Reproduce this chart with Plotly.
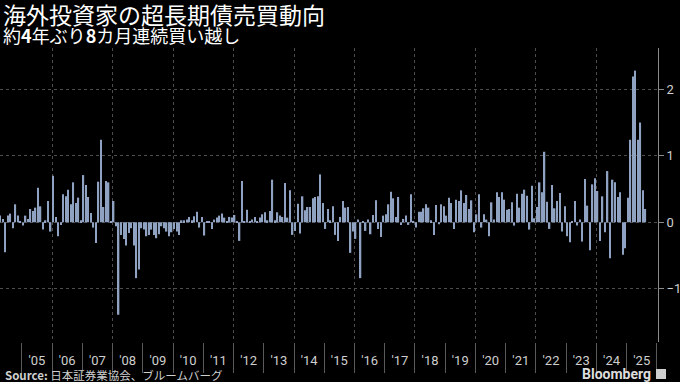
import pandas as pd
import plotly.graph_objects as go

# ---- data: monthly net purchases of super-long JGBs by foreign investors (trillion yen) ----
v2004 = [0.10, 0.05, -0.45, 0.10, 0.13, -0.09, 0.27, 0.10, 0.02]  # Apr-Dec
v2005 = [-0.05, 0.10, 0.05, 0.20, 0.17, 0.22, 0.52, 0.24, -0.11, 0.03, 0.32, -0.14]
v2006 = [0.70, 0.08, -0.21, -0.04, 0.42, 0.39, 0.49, 0.27, 0.60, 0.29, 0.37, 0.03]
v2007 = [0.71, 0.56, 0.38, 0.14, -0.08, -0.31, 0.61, 1.24, 0.23, 0.62, 0.60, 0.01]
v2008 = [0.32, -0.06, -1.39, -0.19, -0.25, -0.35, -0.16, -0.09, -0.35, -0.84, -0.71, -0.09]
v2009 = [-0.11, -0.21, -0.19, -0.11, -0.19, -0.24, -0.18, -0.06, -0.09, -0.14, -0.21, -0.15]
v2010 = [-0.10, -0.14, -0.19, 0.03, 0.03, 0.04, 0.08, 0.03, 0.09, 0.16, -0.08, 0.08]
v2011 = [-0.20, 0.01, 0.01, -0.10, 0.04, 0.07, 0.10, 0.13, 0.07, 0.01, 0.08, 0.07]
v2012 = [0.11, 0.01, -0.28, 0.62, 0.01, 0.19, 0.01, 0.04, 0.08, 0.01, 0.07, 0.12]
v2013 = [0.15, 0.03, 0.17, 0.64, 0.03, 0.15, 0.10, 0.08, 0.59, 0.07, 0.48, -0.19]
v2014 = [-0.13, 0.28, -0.17, 0.39, 0.18, 0.23, 0.23, 0.36, 0.38, 0.39, 0.72, 0.29]
v2015 = [-0.10, 0.20, 0.03, 0.24, -0.19, -0.28, 0.08, 0.32, 0.22, 0.23, -0.46, -0.14]
v2016 = [-0.25, 0.04, -0.84, 0.02, -0.13, 0.04, -0.18, 0.11, 0.33, -0.10, -0.22, 0.10]
v2017 = [0.12, 0.27, 0.46, 0.36, 0.08, 0.38, -0.04, 0.05, 0.10, -0.04, 0.42, 0.02]
v2018 = [-0.08, 0.16, 0.16, 0.21, 0.27, 0.22, 0.03, -0.19, 0.26, -0.03, 0.27, 0.24]
v2019 = [0.10, 0.37, 0.29, -0.10, 0.34, 0.32, 0.48, 0.29, 0.41, 0.20, 0.33, -0.15]
v2020 = [0.12, 0.42, -0.08, 0.12, 0.04, -0.21, 0.30, 0.04, 0.45, 0.38, 0.45, 0.34]
v2021 = [0.19, 0.20, 0.30, -0.05, 0.43, 0.22, 0.43, 0.49, 0.40, -0.11, 0.55, 0.06]
v2022 = [0.23, 0.60, 0.45, 1.06, 0.31, -0.10, 0.56, 0.21, 0.32, 0.44, -0.14, 0.24]
v2023 = [-0.21, -0.30, 0.02, 0.32, -0.05, 0.04, -0.29, 0.65, 0.25, -0.42, 0.57, 0.66]
v2024 = [0.47, -0.28, 0.39, -0.15, 0.77, -0.54, 0.64, 0.60, 0.38, 0.45, -0.49, -0.39]
v2025 = [0.37, 1.24, 2.19, 2.28, 1.24, 1.50, 0.48, 0.20]  # Jan-Aug

values = (v2004 + v2005 + v2006 + v2007 + v2008 + v2009 + v2010 + v2011 + v2012
          + v2013 + v2014 + v2015 + v2016 + v2017 + v2018 + v2019 + v2020 + v2021
          + v2022 + v2023 + v2024 + v2025)
months = pd.date_range("2004-04-01", "2025-08-01", freq="MS") + pd.Timedelta(days=14)

year_labels = ["'%02d" % y for y in range(5, 26)]
label_pos = ["%d-07-02" % y for y in range(2005, 2026)]
year_bounds = ["%d-01-01" % y for y in range(2005, 2027)]
grid_years = ["%d-01-01" % y for y in range(2006, 2026, 2)]
y_ticks = [-1, 0, 1, 2]

# ---- styling ----
BG = "#000000"
BAR = "#8fa2c2"
GRID = "#4d4d4d"
TXT = "#cfcfcf"
XR = ["2004-04-12", "2026-01-14"]
PW, PT, PB = 658, 48, 342
FONT = "Roboto, 'Noto Sans CJK JP', sans-serif"
JP = "'Noto Sans CJK JP', sans-serif"

def px(x):
    return x / PW

def py(y):
    return (PB - y) / (PB - PT)

fig = go.Figure()
fig.add_trace(go.Bar(x=months, y=values, marker_color=BAR, marker_line_width=0,
                     hoverinfo="x+y"))
fig.add_trace(go.Scatter(x=[months[0]], y=[0], xaxis="x2", mode="markers",
                         marker_opacity=0, showlegend=False, hoverinfo="skip"))
fig.add_trace(go.Scatter(x=[months[0]], y=[0], xaxis="x3", mode="markers",
                         marker_opacity=0, showlegend=False, hoverinfo="skip"))

fig.update_layout(
    width=680, height=382,
    margin=dict(l=0, r=680 - PW, t=PT, b=382 - PB),
    paper_bgcolor=BG, plot_bgcolor=BG,
    showlegend=False, bargap=0.4,
    font=dict(family=FONT, color=TXT),
    xaxis=dict(type="date", range=XR, tickmode="array", tickvals=label_pos,
               ticktext=year_labels, ticks="", showgrid=False, zeroline=False,
               showline=False, tickfont=dict(size=13, color=TXT, family=FONT),
               ticklabelstandoff=9),
    xaxis2=dict(type="date", range=XR, overlaying="x", anchor="y", side="bottom",
                tickmode="array", tickvals=year_bounds, ticks="outside", ticklen=30,
                tickcolor="#5a5a5a", tickwidth=1, showticklabels=False,
                showgrid=False, zeroline=False, showline=False),
    xaxis3=dict(type="date", range=XR, overlaying="x", anchor="y", side="bottom",
                tickmode="array", tickvals=grid_years, ticks="", showticklabels=False,
                showgrid=True, gridcolor=GRID, griddash="dot", gridwidth=1,
                zeroline=False, showline=False),
    yaxis=dict(side="right", range=[-1.8, 2.62], tickmode="array", tickvals=y_ticks,
               showgrid=True, gridcolor=GRID, griddash="dot", zeroline=False,
               showline=True, linecolor="#8a8a8a", linewidth=1,
               ticks="outside", ticklen=5, tickcolor="#8a8a8a",
               tickfont=dict(size=13, color=TXT, family=FONT)),
)

ann = [
    dict(text="海外投資家の超長期債売買動向", x=px(1), y=py(14), xanchor="left",
         yanchor="middle", font=dict(size=23, color="#ffffff", family=JP)),
    dict(text="約<b>4</b>年ぶり<b>8</b>カ月連続買い越し", x=px(1), y=py(35),
         xanchor="left", yanchor="middle", font=dict(size=18, color="#ffffff", family=JP)),
    dict(text="<b>Source:</b> 日本証券業協会、ブルームバーグ", x=px(3), y=py(375),
         xanchor="left", yanchor="middle", font=dict(size=11.5, color=TXT, family=JP)),
    dict(text="<b>Bloomberg</b>", x=px(653), y=py(374), xanchor="right",
         yanchor="middle", font=dict(size=14, color="#dddddd", family=FONT)),
]
for a in ann:
    a.update(xref="paper", yref="paper", showarrow=False)
fig.update_layout(annotations=ann)

fig.add_shape(type="rect", xref="paper", yref="paper",
              x0=px(656), x1=px(666), y0=py(379), y1=py(369),
              fillcolor="#cfcfcf", line=dict(width=0))

fig.write_html("out.html", config={"displayModeBar": False},
               post_script="document.body.style.margin='0';"
                           "document.body.style.background='#000';")
